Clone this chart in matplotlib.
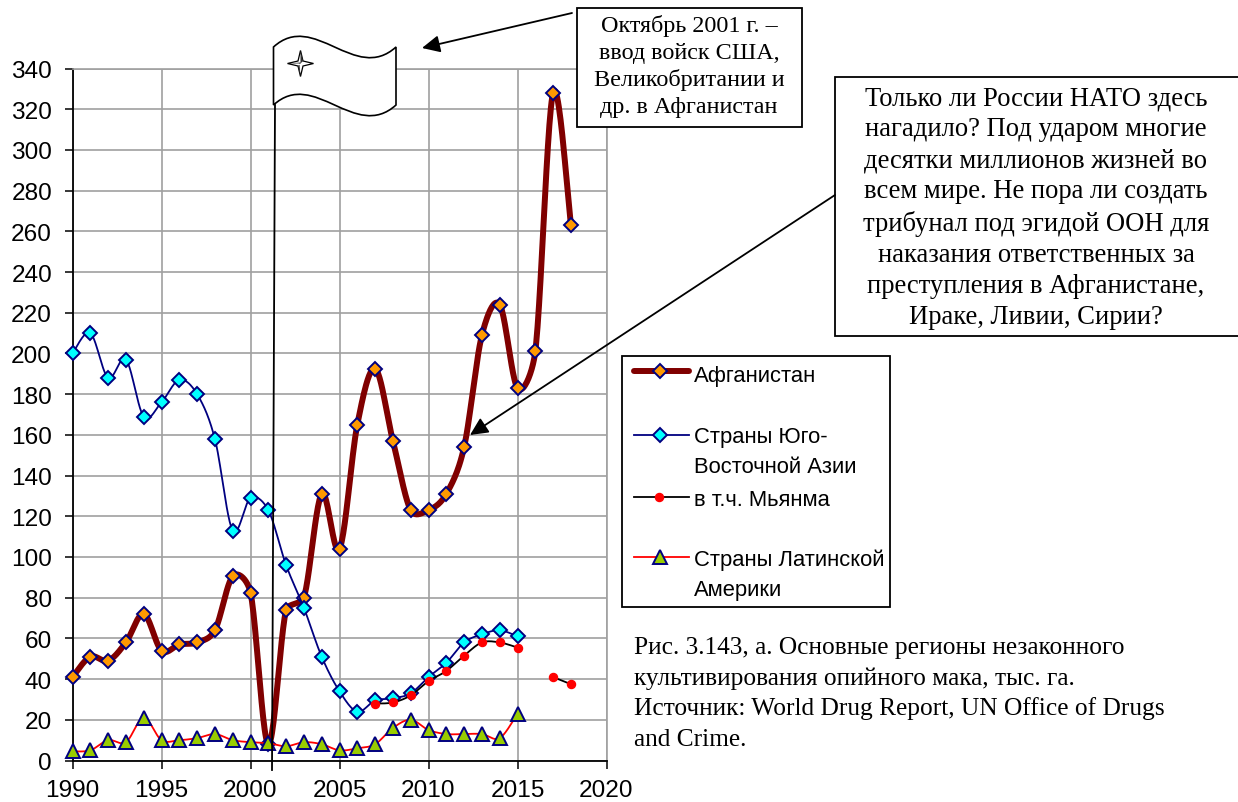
import numpy as np
import matplotlib
matplotlib.use('Agg')
import matplotlib.pyplot as plt
from matplotlib.path import Path
from matplotlib.patches import PathPatch, Rectangle, FancyArrowPatch
from matplotlib.lines import Line2D

SANS = 'Liberation Sans'
SERIF = 'Liberation Serif'

years_all = list(range(1990, 2019))
afghanistan = [41, 51, 49, 58, 72, 54, 57, 58, 64, 90.5, 82.5, 8, 74, 80, 131, 104, 165, 192.5,
               157, 123, 123, 131, 154, 209, 224, 183, 201, 328, 263]
years_sea = list(range(1990, 2016))
se_asia = [200, 210, 188, 197, 169, 176, 187, 180, 158, 113, 129, 123, 96, 75, 51, 34, 24, 29.5,
           30.5, 33, 41, 48, 58, 62, 64, 61]
years_mm1 = list(range(2007, 2016))
myanmar1 = [28, 28.5, 32, 39, 44, 51.5, 58, 58, 55.5]
years_mm2 = [2017, 2018]
myanmar2 = [41, 37.5]
latin = [4.5, 5, 10, 9, 21, 10, 10, 11, 13, 10, 9, 8.5, 7, 9, 8, 5, 6, 8, 16, 20, 15, 13, 13, 13, 11, 23]

legend_labels = ['Афганистан', 'Страны Юго-\nВосточной Азии', 'в т.ч. Мьянма', 'Страны Латинской\nАмерики']
box1_text = 'Октябрь 2001 г. –\nввод войск США,\nВеликобритании и\nдр. в Афганистан'
box2_text = ('Только ли России НАТО здесь\nнагадило? Под ударом многие\nдесятки миллионов жизней во\n'
             'всем мире. Не пора ли создать\nтрибунал под эгидой ООН для\nнаказания ответственных за\n'
             'преступления в Афганистане,\nИраке, Ливии, Сирии?')
caption = ['Рис. 3.143, а. Основные регионы незаконного',
           'культивирования опийного мака, тыс. га.',
           'Источник: World Drug Report, UN Office of Drugs',
           'and Crime.']

W, H = 1238, 803
L, R, T, B = 72.5, 606.5, 69.5, 761.5
XMIN, XMAX, YMIN, YMAX = 1990, 2020, 0, 340
SX = (R - L) / (XMAX - XMIN)
SY = (B - T) / (YMAX - YMIN)


def smooth(xs, ys, n=24):
    """Spreadsheet-style smoothed line: Catmull-Rom arms capped by the chord, worked out in pixel space."""
    P = np.column_stack([np.asarray(xs, float) * SX, np.asarray(ys, float) * SY])
    if len(P) < 3:
        return np.asarray(xs, float), np.asarray(ys, float)
    Q = np.vstack([P[0], P, P[-1]])
    t = np.linspace(0, 1, n, endpoint=False)[:, None]
    out = []
    for i in range(1, len(Q) - 2):
        p0, p1, p2, p3 = Q[i - 1], Q[i], Q[i + 1], Q[i + 2]
        d02 = np.linalg.norm(p2 - p0)
        d12 = np.linalg.norm(p2 - p1)
        d13 = np.linalg.norm(p3 - p1)
        over1 = d02 / 6 >= d12 / 2
        over2 = d13 / 6 >= d12 / 2
        f = g = 1 / 6
        if over1 and over2:
            f = d12 / (3 * d02)
            g = d12 / (3 * d13)
        elif over1:
            f = d12 / (2 * d02)
        elif over2:
            g = d12 / (2 * d13)
        c1 = p1 + (p2 - p0) * f
        c2 = p2 - (p3 - p1) * g
        out.append((1 - t) ** 3 * p1 + 3 * t * (1 - t) ** 2 * c1 + 3 * t ** 2 * (1 - t) * c2 + t ** 3 * p2)
    out.append(P[-1:])
    A = np.vstack(out)
    return A[:, 0] / SX, A[:, 1] / SY


fig = plt.figure(figsize=(W / 100, H / 100), dpi=100, facecolor='white')
ax = fig.add_axes([L / W, 1 - B / H, (R - L) / W, (B - T) / H])
ax.set_xlim(XMIN, XMAX)
ax.set_ylim(YMIN, YMAX)
ax.set_xticks(range(1990, 2021, 5))
ax.set_yticks(range(0, 341, 20))
ax.grid(True, color='#a0a0a0', lw=1.2, zorder=0)
ax.set_axisbelow(True)
for s in ('top', 'right'):
    ax.spines[s].set_color('#a0a0a0')
    ax.spines[s].set_linewidth(1.2)
for s in ('left', 'bottom'):
    ax.spines[s].set_color('black')
    ax.spines[s].set_linewidth(1.3)
ax.tick_params(length=6, width=1.1, labelsize=17.6, color='black', labelcolor='black')
ax.tick_params(axis='y', pad=8.7)
ax.tick_params(axis='x', pad=7.5)
for lab in ax.get_xticklabels() + ax.get_yticklabels():
    lab.set_fontfamily(SANS)

NAVY = '#000080'
DM = dict(marker='D', ms=7.2, mew=1.4, mec=NAVY, ls='none', clip_on=False)
TRI = dict(marker='^', ms=10.5, mfc='#99cc00', mec=NAVY, mew=1.4, ls='none', clip_on=False)
DOT = dict(marker='o', ms=5.8, mfc='#ff0000', mec='#ff0000', ls='none', clip_on=False)


def series(xs, ys, color, lw, z, **mk):
    sx, sy = smooth(xs, ys)
    ax.plot(sx, sy, color=color, lw=lw, zorder=z, solid_capstyle='round', clip_on=False)
    ax.plot(xs, ys, zorder=z + 0.5, **mk)


series(years_all, afghanistan, '#800000', 4.3, 3, **{**DM, 'mfc': '#ff9900'})
series(years_sea, se_asia, NAVY, 1.3, 4, **{**DM, 'mfc': '#00ffff'})
series(years_mm1, myanmar1, 'black', 1.3, 5, **DOT)
series(years_mm2, myanmar2, 'black', 1.3, 5, **DOT)
series(years_sea, latin, '#ff0000', 1.3, 6, **TRI)

# overlay in reference pixel coordinates for the annotations
ov = fig.add_axes([0, 0, 1, 1], facecolor='none', zorder=10)
ov.set_xlim(0, W)
ov.set_ylim(H, 0)
ov.axis('off')

# flag pole
ov.add_line(Line2D([275, 272], [106, 771], color='black', lw=1.3, zorder=2))
# flag
C3 = Path.CURVE4
verts = [(273.5, 48), (314, 11), (355, 85), (396, 48), (396, 106), (355, 143), (314, 69), (273.5, 106), (273.5, 48)]
codes = [Path.MOVETO, C3, C3, C3, Path.LINETO, C3, C3, C3, Path.CLOSEPOLY]
ov.add_patch(PathPatch(Path(verts, codes), fc='white', ec='black', lw=1.2, zorder=3))
cx, cy = 300.5, 64.5
star = [(cx, cy - 13), (cx + 2.5, cy - 2.5), (cx + 13, cy), (cx + 2.5, cy + 2.5), (cx, cy + 13),
        (cx - 2.5, cy + 2.5), (cx - 13, cy), (cx - 2.5, cy - 2.5), (cx, cy - 13)]
ov.add_patch(plt.Polygon(star, closed=True, fc='white', ec='black', lw=0.9, zorder=4))
ov.add_patch(plt.Polygon([(cx, cy - 13), (cx + 2.5, cy - 2.5), (cx, cy), (cx - 2.5, cy + 2.5), (cx, cy + 13),
                          (cx - 1, cy), (cx - 13, cy), (cx, cy - 1)], closed=True, fc='#333333', ec='none', zorder=4))


def box(x0, y0, x1, y1, z=5):
    ov.add_patch(Rectangle((x0, y0), x1 - x0, y1 - y0, fc='white', ec='black', lw=1.3, zorder=z, clip_on=False))


box(577, 9, 802, 128)
ov.text(689, 66.5, box1_text, family=SERIF, fontsize=17.4, ha='center', va='center', linespacing=1.34, zorder=6)
box(835, 78, 1240, 337)
ov.text(1036, 208, box2_text, family=SERIF, fontsize=19.2, ha='center', va='center', linespacing=1.32, zorder=6)

for p0, p1 in (((572, 14), (422, 49)), ((835, 196), (470, 436))):
    ov.add_patch(FancyArrowPatch(p0, p1, arrowstyle='-|>,head_length=10.8,head_width=5.2', mutation_scale=1,
                                 color='black', lw=1.3, shrinkA=0, shrinkB=0, zorder=7))

# legend
box(622, 357, 890, 608)
hx0, hx1, hm = 634, 689, 660
ly = [372, 436, 497.5, 558]
ov.add_line(Line2D([hx0, hx1], [ly[0]] * 2, color='#800000', lw=4.3, solid_capstyle='round', zorder=6))
ov.plot([hm], [ly[0]], zorder=7, **{**DM, 'mfc': '#ff9900'})
ov.add_line(Line2D([hx0, hx1], [ly[1]] * 2, color=NAVY, lw=1.3, zorder=6))
ov.plot([hm], [ly[1]], zorder=7, **{**DM, 'mfc': '#00ffff'})
ov.add_line(Line2D([hx0, hx1], [ly[2]] * 2, color='black', lw=1.3, zorder=6))
ov.plot([hm - 1], [ly[2]], zorder=7, **DOT)
ov.add_line(Line2D([hx0, hx1], [ly[3]] * 2, color='#ff0000', lw=1.3, zorder=6))
ov.plot([hm], [ly[3]], zorder=7, **TRI)
for lab, y in zip(legend_labels, [376.5, 452.5, 500.5, 575]):
    ov.text(694, y, lab, family=SANS, fontsize=15.8, ha='left', va='center', linespacing=1.55, zorder=7)

for line, y in zip(caption, [654, 685, 715, 746]):
    ov.text(634, y, line, family=SERIF, fontsize=18.3, ha='left', va='baseline', zorder=6)

fig.savefig('out.png', dpi=100)
